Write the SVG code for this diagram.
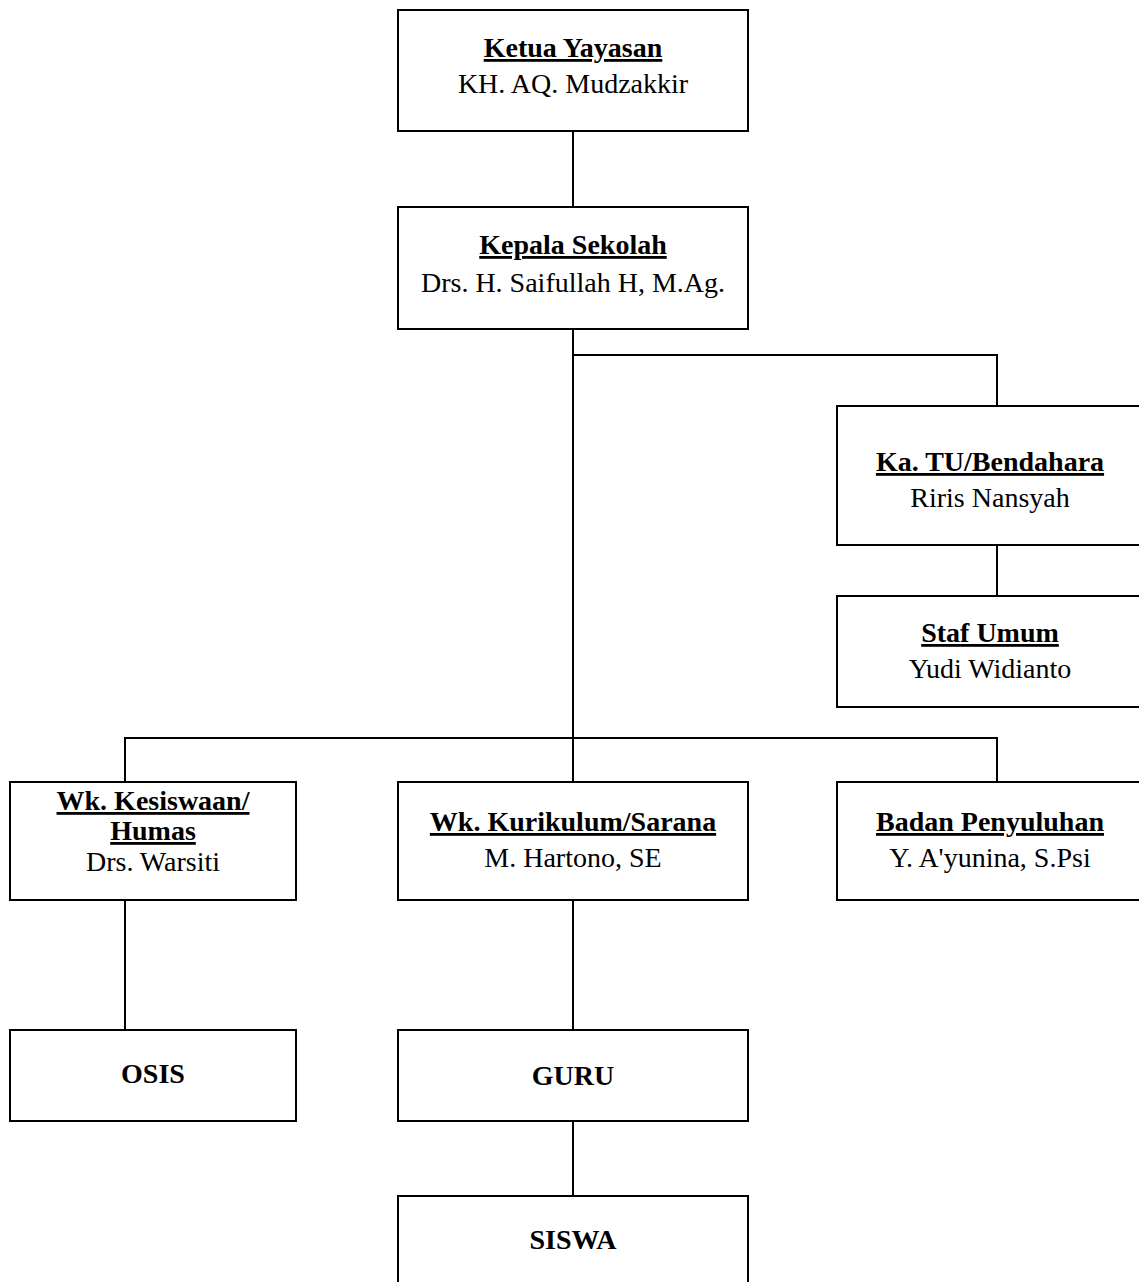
<svg xmlns="http://www.w3.org/2000/svg" width="1139" height="1282" viewBox="0 0 1139 1282">
<style>
.box{fill:#fff;stroke:#000;stroke-width:2}
.ln{fill:none;stroke:#000;stroke-width:2}
text{font-family:"Liberation Serif","Times New Roman",serif;font-size:28px;fill:#000;text-anchor:middle}
.t{font-weight:bold;text-decoration:underline}
.b{font-weight:bold}
</style>
<rect width="1139" height="1282" fill="#fff"/>
<g id="connectors">
<path class="ln" d="M573 131V207"/>
<path class="ln" d="M573 329V782"/>
<path class="ln" d="M573 355H997V406"/>
<path class="ln" d="M997 545V596"/>
<path class="ln" d="M125 782V738H997V782"/>
<path class="ln" d="M125 900V1030"/>
<path class="ln" d="M573 900V1030"/>
<path class="ln" d="M573 1121V1196"/>
</g>
<g id="ketua"><rect class="box" x="398" y="10" width="350" height="121"/><text class="t" x="573" y="57">Ketua Yayasan</text><text x="573" y="93">KH. AQ. Mudzakkir</text></g>
<g id="kepala"><rect class="box" x="398" y="207" width="350" height="122"/><text class="t" x="573" y="254">Kepala Sekolah</text><text x="573" y="292">Drs. H. Saifullah H, M.Ag.</text></g>
<g id="katu"><rect class="box" x="837" y="406" width="310" height="139"/><text class="t" x="990" y="471">Ka. TU/Bendahara</text><text x="990" y="507">Riris Nansyah</text></g>
<g id="staf"><rect class="box" x="837" y="596" width="310" height="111"/><text class="t" x="990" y="642">Staf Umum</text><text x="990" y="678">Yudi Widianto</text></g>
<g id="kesiswaan"><rect class="box" x="10" y="782" width="286" height="118"/><text class="t" x="153" y="810">Wk. Kesiswaan/</text><text class="t" x="153" y="840">Humas</text><text x="153" y="871">Drs. Warsiti</text></g>
<g id="kurikulum"><rect class="box" x="398" y="782" width="350" height="118"/><text class="t" x="573" y="831">Wk. Kurikulum/Sarana</text><text x="573" y="867">M. Hartono, SE</text></g>
<g id="badan"><rect class="box" x="837" y="782" width="310" height="118"/><text class="t" x="990" y="831">Badan Penyuluhan</text><text x="990" y="867">Y. A'yunina, S.Psi</text></g>
<g id="osis"><rect class="box" x="10" y="1030" width="286" height="91"/><text class="b" x="153" y="1083">OSIS</text></g>
<g id="guru"><rect class="box" x="398" y="1030" width="350" height="91"/><text class="b" x="573" y="1085">GURU</text></g>
<g id="siswa"><rect class="box" x="398" y="1196" width="350" height="96"/><text class="b" x="573" y="1249">SISWA</text></g>
</svg>
